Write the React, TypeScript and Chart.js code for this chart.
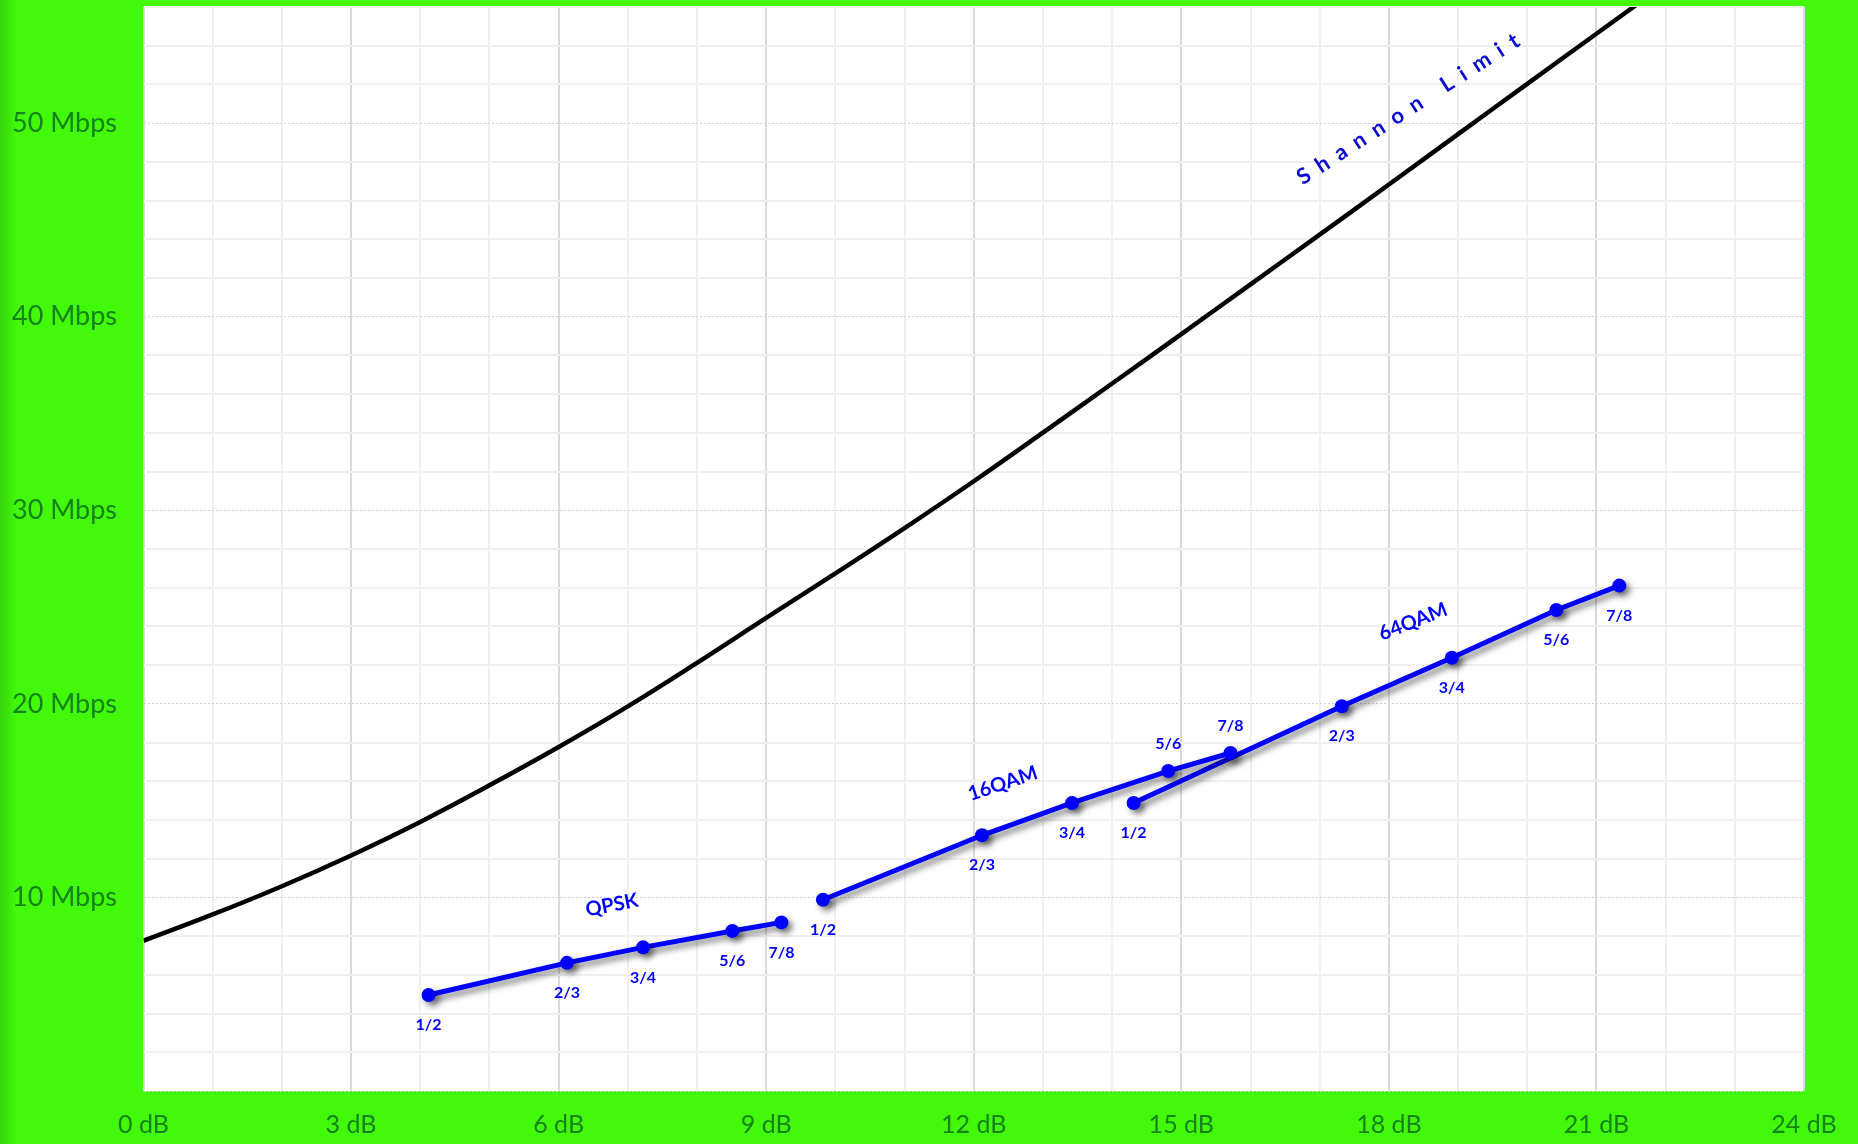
import React, { useEffect, useRef } from 'react';
import { Chart, registerables } from 'chart.js';

Chart.register(...registerables);

// ---- tick labels ----
const xTickValues = [0, 3, 6, 9, 12, 15, 18, 21, 24];
const xTickLabels = ['0 dB', '3 dB', '6 dB', '9 dB', '12 dB', '15 dB', '18 dB', '21 dB', '24 dB'];
const yTickValues = [10, 20, 30, 40, 50];
const yTickLabels = ['10 Mbps', '20 Mbps', '30 Mbps', '40 Mbps', '50 Mbps'];

// ---- data ----
const rateLabels = ['1/2', '2/3', '3/4', '5/6', '7/8'];

const qpskSnr = [4.12, 6.12, 7.22, 8.51, 9.22];
const qpskMbps = [4.96, 6.62, 7.42, 8.27, 8.71];

const qam16Snr = [9.82, 12.12, 13.42, 14.81, 15.71];
const qam16Mbps = [9.88, 13.21, 14.88, 16.53, 17.46];

const qam64Snr = [14.31, 17.32, 18.91, 20.42, 21.33];
const qam64Mbps = [14.88, 19.88, 22.38, 24.85, 26.11];

const shannonSnr = [0, 1, 2, 3, 4, 5, 6, 7, 8, 9, 10, 11, 12, 13, 14, 15, 16, 17, 18, 19, 20, 21, 22];
const shannonMbps = [7.76, 9.12, 10.58, 12.17, 13.9, 15.79, 17.77, 19.87, 22.12, 24.44, 26.74, 29.08, 31.5, 34.01, 36.55, 39.1, 41.67, 44.24, 46.83, 49.43, 52.03, 54.62, 57.2];

const seriesNames = ['QPSK', '16QAM', '64QAM', 'Shannon Limit'];

// ---- styling / placement (not data) ----
const GREEN = '#41f909';
const TICK_GREEN = '#15821a';
const BLUE = '#0000ff';
const rateLabelPlacement = [
  ['below', 'below', 'below', 'below', 'below'],
  ['below', 'below', 'below', 'above', 'above'],
  ['below', 'below', 'below', 'below', 'below'],
];
const nameAnchors = [
  { x: 6.77, y: 9.6, angle: -11, font: 'bold 20px Lato', color: BLUE, spacing: 0 },
  { x: 12.42, y: 15.88, angle: -18.5, font: 'bold 20px Lato', color: BLUE, spacing: 0 },
  { x: 18.35, y: 24.25, angle: -21.5, font: 'bold 20px Lato', color: BLUE, spacing: 0 },
  { x: 18.34, y: 50.86, angle: -32.8, font: 'bold 22px Lato', color: '#0a0ad2', spacing: 10 },
];

const zip = (xs: number[], ys: number[]) => xs.map((x, i) => ({ x, y: ys[i] }));

const bgPlugin = {
  id: 'bgPlugin',
  beforeDraw(chart: any) {
    const { ctx, width, height, chartArea: a } = chart;
    ctx.save();
    ctx.fillStyle = GREEN;
    ctx.fillRect(0, 0, width, height);
    const g = ctx.createLinearGradient(0, 0, 16, 0);
    g.addColorStop(0, 'rgba(30,140,10,0.35)');
    g.addColorStop(1, 'rgba(30,140,10,0)');
    ctx.fillStyle = g;
    ctx.fillRect(0, 0, 16, height);
    ctx.fillStyle = '#ffffff';
    ctx.fillRect(a.left, a.top, a.right - a.left, a.bottom - a.top);
    ctx.restore();
  },
};

const shadowPlugin = {
  id: 'shadowPlugin',
  beforeDatasetDraw(chart: any, args: any) {
    const ds = chart.data.datasets[args.index];
    if (ds.label === 'Shannon Limit') return;
    const ctx = chart.ctx;
    ctx.save();
    ctx.shadowColor = 'rgba(0,0,0,0.5)';
    ctx.shadowOffsetX = 4;
    ctx.shadowOffsetY = 4;
    ctx.shadowBlur = 6;
  },
  afterDatasetDraw(chart: any, args: any) {
    const ds = chart.data.datasets[args.index];
    if (ds.label === 'Shannon Limit') return;
    chart.ctx.restore();
  },
};

const labelPlugin = {
  id: 'labelPlugin',
  afterDatasetsDraw(chart: any) {
    const ctx = chart.ctx;
    ctx.save();
    ctx.fillStyle = BLUE;
    ctx.font = 'bold 16px Lato';
    ctx.textAlign = 'center';
    ctx.textBaseline = 'middle';
    for (let i = 0; i < 3; i++) {
      const meta = chart.getDatasetMeta(i);
      meta.data.forEach((pt: any, j: number) => {
        const place = rateLabelPlacement[i][j];
        const dy = place === 'above' ? -27 : 30;
        ctx.fillText(rateLabels[j], pt.x, pt.y + dy);
      });
    }
    const xs = chart.scales.x;
    const ys = chart.scales.y;
    seriesNames.forEach((name, i) => {
      const a = nameAnchors[i];
      ctx.save();
      ctx.translate(xs.getPixelForValue(a.x), ys.getPixelForValue(a.y));
      ctx.rotate((a.angle * Math.PI) / 180);
      ctx.font = a.font;
      ctx.fillStyle = a.color;
      (ctx as any).letterSpacing = a.spacing + 'px';
      ctx.fillText(name, 0, 0);
      ctx.restore();
    });
    ctx.restore();
  },
};

export default function App() {
  const ref = useRef<HTMLCanvasElement>(null);
  useEffect(() => {
    document.body.style.margin = '0';
    const canvas = ref.current!;
    const blueSet = (label: string, data: any[]) => ({
      label,
      data,
      showLine: true,
      borderColor: BLUE,
      backgroundColor: BLUE,
      borderWidth: 5,
      pointRadius: 7,
      pointBorderWidth: 0,
      pointBackgroundColor: BLUE,
      tension: 0,
    });
    const chart = new Chart(canvas, {
      type: 'scatter',
      data: {
        datasets: [
          blueSet('QPSK', zip(qpskSnr, qpskMbps)),
          blueSet('16QAM', zip(qam16Snr, qam16Mbps)),
          blueSet('64QAM', zip(qam64Snr, qam64Mbps)),
          {
            label: 'Shannon Limit',
            data: zip(shannonSnr, shannonMbps),
            showLine: true,
            borderColor: '#000000',
            borderWidth: 4.5,
            pointRadius: 0,
            tension: 0.4,
            clip: 0,
          } as any,
        ],
      },
      options: {
        animation: false,
        responsive: false,
        devicePixelRatio: 1,
        events: [],
        layout: { padding: { top: 5, right: 54, left: 12, bottom: 0 } },
        plugins: { legend: { display: false }, tooltip: { enabled: false } },
        scales: {
          x: {
            type: 'linear',
            min: 0,
            max: 24,
            afterFit: (s: any) => {
              s.height = 53;
              s.paddingLeft = 0;
              s.paddingRight = 0;
            },
            border: { display: false },
            grid: {
              drawTicks: false,
              lineWidth: 2,
              color: (c: any) => (c.tick && c.tick.value % 3 === 0 ? '#dadada' : '#efefef'),
            },
            ticks: {
              stepSize: 1,
              autoSkip: false,
              maxRotation: 0,
              padding: 19,
              color: TICK_GREEN,
              font: { family: 'Lato', size: 25 },
              callback: (v: any) => {
                const i = xTickValues.indexOf(Number(v));
                return i >= 0 ? xTickLabels[i] : '';
              },
            },
          },
          y: {
            type: 'linear',
            min: 0,
            max: 56,
            afterFit: (s: any) => {
              s.width = 131.5;
              s.paddingTop = 0;
              s.paddingBottom = 0;
            },
            border: {
              display: false,
              dash: (c: any) => (c.tick && c.tick.value % 10 === 0 ? [2, 2] : []),
            } as any,
            grid: {
              drawTicks: false,
              lineWidth: (c: any) => (c.tick && c.tick.value % 10 === 0 ? 1 : 2),
              color: (c: any) => (c.tick && c.tick.value % 10 === 0 ? '#d0d0d0' : '#efefef'),
            },
            ticks: {
              stepSize: 2,
              autoSkip: false,
              crossAlign: 'far',
              color: TICK_GREEN,
              font: { family: 'Lato', size: 27 },
              callback: (v: any) => {
                const i = yTickValues.indexOf(Number(v));
                return i >= 0 ? yTickLabels[i] : '';
              },
            },
          },
        },
      },
      plugins: [bgPlugin, shadowPlugin, labelPlugin],
    } as any);
    return () => chart.destroy();
  }, []);
  return (
    <div style={{ width: 1858, height: 1144 }}>
      <canvas ref={ref} width={1858} height={1144} style={{ display: 'block' }} />
    </div>
  );
}
